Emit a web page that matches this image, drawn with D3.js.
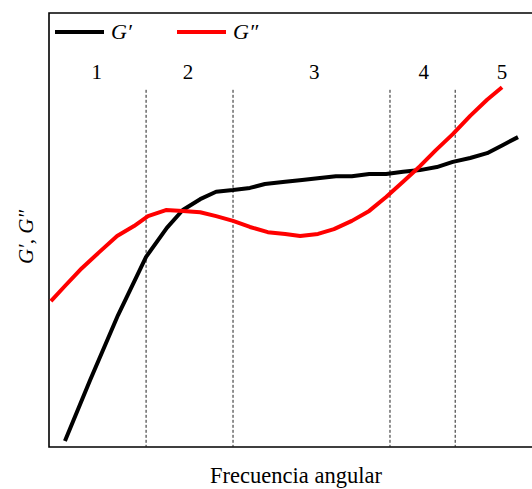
<!DOCTYPE html>
<html>
<head>
<meta charset="utf-8">
<script src="https://cdn.jsdelivr.net/npm/d3@7"></script>
<style>
  html, body { margin: 0; padding: 0; background: #fff; }
  svg { display: block; }
  text { font-family: "Liberation Serif", "Times New Roman", serif; fill: #000; }
</style>
</head>
<body>
<svg id="chart" width="532" height="489"></svg>
<script>
// Angular frequency (arbitrary units) and moduli (arbitrary units)
const storageX = [0.33, 0.85, 1.43, 2.01, 2.44, 2.77, 3.13, 3.46, 3.81, 4.16, 4.47, 4.89, 5.24, 5.61, 5.94, 6.27, 6.63, 6.98, 7.33, 7.68, 8.03, 8.36, 8.72, 9.07, 9.40, 9.71];
const storageG = [0.14, 1.54, 3.04, 4.38, 5.05, 5.46, 5.71, 5.88, 5.92, 5.97, 6.06, 6.11, 6.15, 6.20, 6.24, 6.24, 6.29, 6.29, 6.34, 6.38, 6.45, 6.57, 6.66, 6.77, 6.96, 7.14];
const lossX = [0.04, 0.33, 0.68, 1.04, 1.41, 1.76, 2.05, 2.42, 2.77, 3.13, 3.46, 3.81, 4.16, 4.53, 4.89, 5.20, 5.57, 5.90, 6.27, 6.63, 6.98, 7.33, 7.68, 8.01, 8.36, 8.72, 9.07, 9.38];
const lossG = [3.36, 3.71, 4.12, 4.49, 4.86, 5.09, 5.32, 5.46, 5.44, 5.41, 5.32, 5.21, 5.07, 4.95, 4.91, 4.86, 4.91, 5.02, 5.21, 5.44, 5.76, 6.11, 6.47, 6.84, 7.21, 7.63, 8.00, 8.29];

// Zone boundaries and zone labels
const zoneBounds = [2.01, 3.81, 7.06, 8.41];
const zoneLabels = ["1", "2", "3", "4", "5"];
const zoneLabelX = [0.99, 2.88, 5.49, 7.76, 9.38];

const seriesNames = ["G\u2032", "G\u2033"];
const seriesColors = ["#000000", "#ff0000"];
const xTitle = "Frecuencia angular";
const yTitle = "G\u2032, G\u2033";

const svg = d3.select("#chart");
const plotLeft = 49, plotTop = 13, plotRight = 532, plotBottom = 447;

const x = d3.scaleLinear().domain([0, 10]).range([plotLeft, plotRight]);
const y = d3.scaleLinear().domain([0, 10]).range([plotBottom, plotTop]);

// Frame: left, top and bottom edges (right edge lies beyond the canvas)
svg.append("path")
  .attr("d", `M${plotRight + 10},${plotTop}H${plotLeft}V${plotBottom}H${plotRight + 10}`)
  .attr("fill", "none")
  .attr("stroke", "#000")
  .attr("stroke-width", 1.6);

// Dashed zone separators
svg.append("g").selectAll("line").data(zoneBounds).join("line")
  .attr("x1", d => x(d)).attr("x2", d => x(d))
  .attr("y1", y(8.23)).attr("y2", y(0))
  .attr("stroke", "#222")
  .attr("stroke-width", 1)
  .attr("stroke-dasharray", "3,2");

// Zone numbers
svg.append("g").selectAll("text").data(zoneLabels).join("text")
  .attr("x", (d, i) => x(zoneLabelX[i]))
  .attr("y", y(8.64))
  .attr("text-anchor", "middle")
  .attr("dominant-baseline", "central")
  .attr("font-size", 21)
  .text(d => d);

const line = d3.line().curve(d3.curveLinear);

const series = [
  { xs: storageX, ys: storageG },
  { xs: lossX, ys: lossG }
];

svg.append("g").selectAll("path").data(series).join("path")
  .attr("d", s => line(s.xs.map((v, i) => [x(v), y(s.ys[i])])))
  .attr("fill", "none")
  .attr("stroke", (s, i) => seriesColors[i])
  .attr("stroke-width", 4)
  .attr("stroke-linejoin", "round");

// Legend
const legend = svg.append("g");
const legendX = [55, 177];
seriesNames.forEach((name, i) => {
  legend.append("line")
    .attr("x1", legendX[i]).attr("x2", legendX[i] + 49)
    .attr("y1", 32).attr("y2", 32)
    .attr("stroke", seriesColors[i])
    .attr("stroke-width", 4);
  legend.append("text")
    .attr("x", legendX[i] + 56)
    .attr("y", 39)
    .attr("font-size", 22)
    .attr("font-style", "italic")
    .text(name);
});

// Axis titles
svg.append("text")
  .attr("x", 296)
  .attr("y", 483)
  .attr("text-anchor", "middle")
  .attr("font-size", 22.5)
  .text(xTitle);

svg.append("text")
  .attr("transform", "translate(33,237) rotate(-90)")
  .attr("text-anchor", "middle")
  .attr("font-size", 21)
  .attr("font-style", "italic")
  .text(yTitle);
</script>
</body>
</html>
